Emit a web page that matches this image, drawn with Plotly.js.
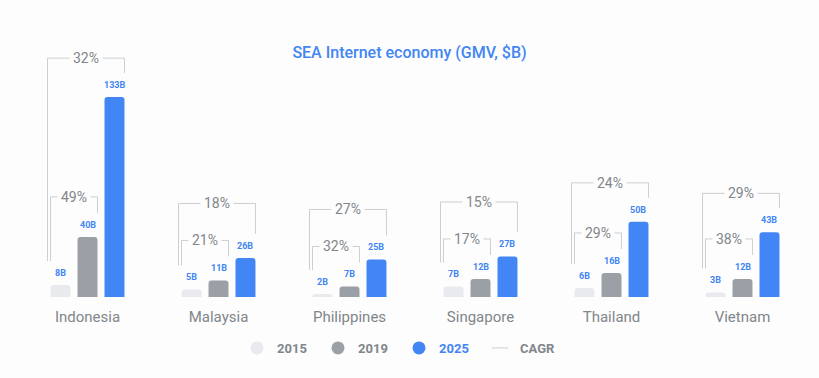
<!DOCTYPE html>
<html><head><meta charset="utf-8">
<script src="https://cdn.plot.ly/plotly-3.0.1.min.js"></script>
<style>html,body{margin:0;padding:0;background:#fdfdfd}</style>
</head><body><div id="chart" style="width:819px;height:378px"></div>
<script>
// ---- data ----
const categories = ['Indonesia','Malaysia','Philippines','Singapore','Thailand','Vietnam'];
const years = ['2015','2019','2025'];
const gmv2015 = [8,5,2,7,6,3];
const gmv2019 = [40,11,7,12,16,12];
const gmv2025 = [133,26,25,27,50,43];
const cagr2015to2019 = ['49%','21%','32%','17%','29%','38%'];
const cagr2015to2025 = ['32%','18%','27%','15%','24%','29%'];

// ---- style / layout constants ----
const W = 819, H = 378;
const M = {l:22, r:11, t:40, b:81};
const plotW = W - M.l - M.r, plotH = H - M.t - M.b;
const Y_MAX = 171;
const pxY = plotH / Y_MAX;                 // px per data unit
const pxX = plotW / categories.length;     // px per category
const BARGAP = 0.382, GROUPGAP = 0.26;
const slot = (1 - BARGAP) / 3;
const halfBar = slot * (1 - GROUPGAP) / 2;
const colors = ['#e8eaed', '#9aa0a6', '#4285f4'];
const BLUE = '#4285f4', GRAY = '#80868b', LINE = '#cbced2', BG = '#fdfdfd';
const FONT = 'Roboto, "Open Sans", sans-serif';

const idx = categories.map((c, i) => i);
const series = [gmv2015, gmv2019, gmv2025];

const traces = series.map((vals, j) => ({
  type: 'bar', x: idx, y: vals, name: years[j], showlegend: false,
  marker: {color: colors[j], cornerradius: 3}, hoverinfo: 'skip'
}));

// brackets (CAGR)
const bx = [], by = [];
const u = px => px / pxY;     // px -> data units
const ux = px => px / pxX;    // px -> category units
const annotations = [];
idx.forEach(i => {
  const left15 = i - slot - halfBar;
  const right19 = i + halfBar;
  const right25 = i + slot + halfBar;
  const leg15 = gmv2015[i] + u(24);
  const leg19 = gmv2019[i] + u(24);
  const leg25 = gmv2025[i] + u(24);
  const innerTop = gmv2019[i] + u(40);
  const outerTop = Math.max(innerTop + u(37), gmv2025[i] + u(39));
  const oL = left15 - ux(3);
  bx.push(oL, oL, right25, right25, null);
  by.push(leg15, outerTop, outerTop, leg25, null);
  bx.push(left15, left15, right19, right19, null);
  by.push(leg15, innerTop, innerTop, leg19, null);
  annotations.push({x: (oL + right25) / 2, y: outerTop, text: cagr2015to2025[i],
    showarrow: false, bgcolor: BG, borderpad: 3, yanchor: 'middle',
    font: {family: FONT, size: 14, color: GRAY}});
  annotations.push({x: (left15 + right19) / 2, y: innerTop, text: cagr2015to2019[i],
    showarrow: false, bgcolor: BG, borderpad: 3, yanchor: 'middle',
    font: {family: FONT, size: 14, color: GRAY}});
  series.forEach((vals, j) => {
    annotations.push({x: i + (j - 1) * slot, y: vals[i], yshift: 12, text: vals[i] + 'B',
      showarrow: false, yanchor: 'middle',
      font: {family: FONT, size: 9, color: BLUE, weight: 'bold'}});
  });
});
traces.push({type: 'scatter', mode: 'lines', x: bx, y: by, showlegend: false,
  line: {color: LINE, width: 1}, hoverinfo: 'skip', connectgaps: false});

// legend entries
const legendColors = [GRAY, GRAY, BLUE];
years.forEach((y, j) => traces.push({type: 'scatter', mode: 'markers', x: [null], y: [null],
  name: '<span style="color:' + legendColors[j] + '">' + y + '</span>',
  marker: {symbol: 'circle', size: 13, color: colors[j]}}));
traces.push({type: 'scatter', mode: 'markers', x: [null], y: [null], name: 'CAGR',
  marker: {symbol: 'line-ew', size: 12, color: LINE, line: {color: LINE, width: 1}}});

const layout = {
  width: W, height: H, margin: M,
  paper_bgcolor: BG, plot_bgcolor: BG,
  font: {family: FONT, color: GRAY},
  barmode: 'group', bargap: BARGAP, bargroupgap: GROUPGAP,
  title: {text: 'SEA Internet economy (GMV, $B)', x: 0.5, xanchor: 'center',
    y: 1 - 52 / H, yanchor: 'middle', font: {family: FONT, size: 16, color: BLUE, weight: 500}},
  xaxis: {type: 'linear', range: [-0.5, categories.length - 0.5], tickvals: idx, ticktext: categories,
    showgrid: false, zeroline: false, showline: false, ticks: '', ticklabelstandoff: 9,
    tickfont: {family: FONT, size: 15, color: GRAY}, fixedrange: true},
  yaxis: {range: [0, Y_MAX], visible: false, fixedrange: true},
  showlegend: true,
  legend: {orientation: 'h', x: (237 - M.l) / plotW, xanchor: 'left', y: -51 / plotH, yanchor: 'middle',
    entrywidth: 36, font: {family: FONT, size: 13, color: GRAY, weight: 'bold'}, bgcolor: 'rgba(0,0,0,0)'},
  annotations: annotations,
  hovermode: false
};
Plotly.newPlot('chart', traces, layout, {staticPlot: true, displayModeBar: false});
</script></body></html>
